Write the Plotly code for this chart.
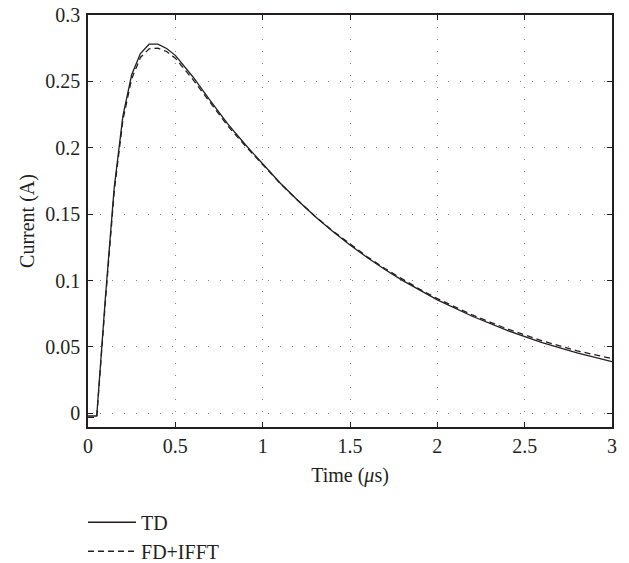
import plotly.graph_objects as go

time_us = [0, 0.05, 0.1, 0.15, 0.2, 0.25, 0.3, 0.35, 0.4, 0.45, 0.5, 0.6, 0.7, 0.8, 0.9, 1.0,
           1.1, 1.2, 1.3, 1.4, 1.5, 1.6, 1.7, 1.8, 1.9, 2.0, 2.2, 2.4, 2.6, 2.8, 3.0]
td_current = [-0.002, -0.002, 0.088, 0.170, 0.224, 0.255, 0.271, 0.278, 0.278, 0.2748, 0.2696,
              0.2535, 0.2355, 0.218, 0.2025, 0.188, 0.1735, 0.1605, 0.1483, 0.1372, 0.1268,
              0.1172, 0.1083, 0.1001, 0.0925, 0.0854, 0.0731, 0.0624, 0.0533, 0.0456, 0.0389]
fd_current = [-0.003, -0.003, 0.085, 0.167, 0.221, 0.252, 0.268, 0.2745, 0.275, 0.2725, 0.2675,
              0.2515, 0.234, 0.2165, 0.2015, 0.1875, 0.1732, 0.1604, 0.1485, 0.1375, 0.1273,
              0.1178, 0.109, 0.1009, 0.0934, 0.0864, 0.0741, 0.0636, 0.0546, 0.0471, 0.0412]

x_ticks = [0, 0.5, 1, 1.5, 2, 2.5, 3]
x_labels = ["0", "0.5", "1", "1.5", "2", "2.5", "3"]
y_ticks = [0, 0.05, 0.1, 0.15, 0.2, 0.25, 0.3]
y_labels = ["0", "0.05", "0.1", "0.15", "0.2", "0.25", "0.3"]

font = dict(family="Liberation Serif, Times New Roman, serif", size=20, color="#231f20")

fig = go.Figure()
fig.add_trace(go.Scatter(x=time_us, y=td_current, mode="lines", name="TD",
                         line=dict(color="#231f20", width=1.3)))
fig.add_trace(go.Scatter(x=time_us, y=fd_current, mode="lines", name="FD+IFFT",
                         line=dict(color="#231f20", width=1.3, dash="6px,4px")))

axis_common = dict(
    showline=True, linecolor="#231f20", linewidth=1.5, mirror="ticks",
    ticks="inside", ticklen=5, tickcolor="#231f20", tickwidth=1,
    showgrid=True, gridcolor="#888888", gridwidth=1, griddash="1px,11px",
    zeroline=False, tickfont=font, automargin=False,
)

fig.update_xaxes(range=[0, 3], tickvals=x_ticks, ticktext=x_labels,
                 title=dict(text="Time (<i>μ</i>s)", font=font, standoff=12), **axis_common)
fig.update_yaxes(range=[-0.0103, 0.3], tickvals=y_ticks, ticktext=y_labels, ticklabelstandoff=2,
                 title=dict(text="Current (A)", font=font, standoff=5), **axis_common)

fig.update_layout(
    width=629, height=563,
    margin=dict(l=88, r=17, t=15, b=136),
    paper_bgcolor="white", plot_bgcolor="white",
    font=font,
    showlegend=True,
    legend=dict(x=-0.0095, xanchor="left", xref="paper",
                y=0.107, yanchor="top", yref="container",
                orientation="v", font=font, bgcolor="rgba(0,0,0,0)",
                tracegroupgap=0, itemwidth=48),
)

fig.write_html("out.html", config={"displayModeBar": False},
               post_script="document.body.style.margin='0';")
